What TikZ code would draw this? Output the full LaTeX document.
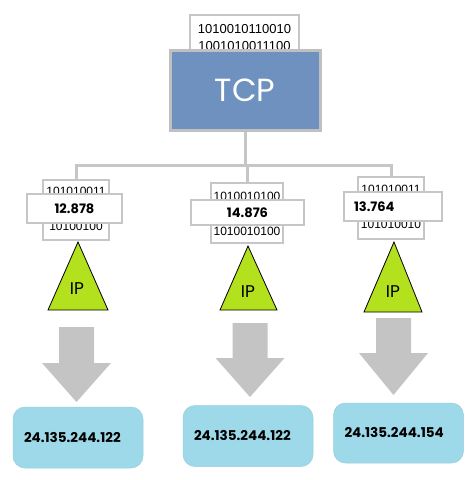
\documentclass[tikz,border=0pt]{standalone}
\usepackage{fontspec}
\setmainfont{Poppins}
\newfontfamily\bitsfont{Liberation Sans}
\usepackage{tikz}
\usetikzlibrary{positioning,calc}

\definecolor{tcpblue}{HTML}{6F91BF}
\definecolor{framegray}{HTML}{C0C0C0}
\definecolor{linegray}{HTML}{C6C6C6}
\definecolor{arrowgray}{HTML}{C4C4C4}
\definecolor{addrblue}{HTML}{9DD9E9}
\definecolor{ipgreen}{HTML}{B3E11D}

\begin{document}
\begin{tikzpicture}
[x = 1pt, y = -1pt]
\tikzset{
	bits box/.style = {draw = linegray, line width = 1.3, fill = white, inner sep = 0, minimum width = 66, minimum height = 60},
	bits text/.style = {inner sep = 0, font = \bitsfont\fontsize{12}{13}\selectfont},
	value box/.style = {draw = linegray, line width = 1.3, fill = white, minimum height = 29, font = \fontsize{13}{14}\selectfont\bfseries},
	ip text/.style = {font = \fontsize{17}{18}\selectfont},
	ip shape/.style = {draw = black, line width = 0.8, fill = ipgreen},
	addr box/.style = {fill = addrblue, draw = addrblue!85!gray, line width = 0.5, rounded corners = 12, minimum width = 130, minimum height = 61,
		inner xsep = 11, text width = 108, align = left, font = \fontsize{13.5}{14}\selectfont\bfseries},
	tree line/.style = {draw = linegray, line width = 3},
	block arrow/.style = {fill = arrowgray},
}
\useasboundingbox (0,0) rectangle (474,480);

% TCP with its segment
\node(tcpbits)[bits box, minimum width = 109, minimum height = 40] at (244.5,35) {};
\node[bits text, font = \bitsfont\fontsize{13}{14}\selectfont, below = 10pt of tcpbits.north] {1010010110010};
\node[bits text, font = \bitsfont\fontsize{13}{14}\selectfont, below = 27pt of tcpbits.north] {1001010011100};
\node(tcp)[draw = framegray, line width = 3, fill = tcpblue, minimum width = 150, minimum height = 80,
	text = white, font = \fontsize{32}{34}\selectfont] at (245,90) {TCP};

% segments
\node(bin1)[bits box] at (76,210) {};
\node[bits text, below = 8pt of bin1.north] {101010011};
\node[bits text, above = 10pt of bin1.south] {10100100};
\node(bin2)[bits box, minimum width = 72] at (247,213) {};
\node[bits text, below = 10pt of bin2.north] {1010010100};
\node[bits text, above = 8pt of bin2.south] {1010010100};
\node(bin3)[bits box, minimum height = 62] at (391,208) {};
\node[bits text, below = 9pt of bin3.north] {101010011};
\node[bits text, above = 11pt of bin3.south] {101010010};

\coordinate(bus) at (245,165);
\draw[tree line] (tcp.south) -- (bus);
\draw[tree line] (bin1.north) |- (bus) -| (bin3.north);
\draw[tree line] (bus) -| (bin2.north);

\node(val1)[value box, minimum width = 95] at (74.5,208.5) {12.878};
\node(val2)[value box, minimum width = 113, minimum height = 25] at (247.5,212.5) {14.876};
\node(val3)[value box, minimum width = 98, text width = 78] at (393,206.5) {13.764};

% IP layer
\draw[ip shape] (78,242) -- (108,310) -- (48,310) -- cycle;
\node(ip1)[ip text] at (77,289) {IP};
\draw[ip shape] (248,246) -- (277,310) -- (220,310) -- cycle;
\node(ip2)[ip text] at (248,292) {IP};
\draw[ip shape] (394,242) -- (422,312) -- (364,312) -- cycle;
\node(ip3)[ip text] at (393,292) {IP};

\foreach \x/\t/\h/\b in {76.5/327/363/402, 250/323/358/397, 393.5/318/353/395}
	\fill[block arrow] (\x-17.5,\t) -- (\x+17.5,\t) -- (\x+17.5,\h) -- (\x+34.5,\h)
		-- (\x,\b) -- (\x-34.5,\h) -- (\x-17.5,\h) -- cycle;

% addresses
\node(addr1)[addr box] at (78,437.5) {24.135.244.122};
\node(addr2)[addr box] at (248,436) {24.135.244.122};
\node(addr3)[addr box, minimum width = 129, minimum height = 60] at (398.5,433) {24.135.244.154};

\end{tikzpicture}
\end{document}
